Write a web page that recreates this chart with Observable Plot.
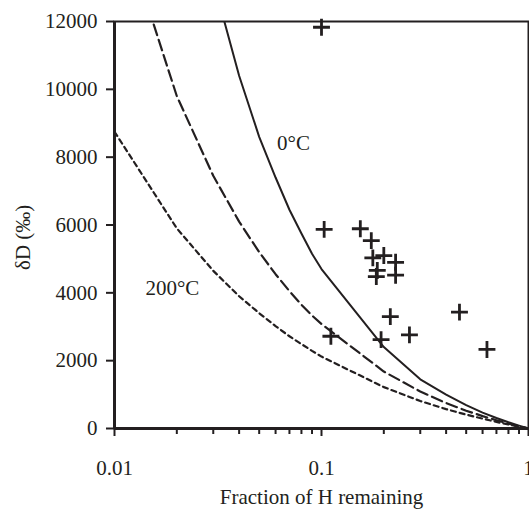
<!DOCTYPE html>
<html>
<head>
<meta charset="utf-8">
<script src="https://cdn.jsdelivr.net/npm/d3@7"></script>
<script src="https://cdn.jsdelivr.net/npm/@observablehq/plot@0.6"></script>
<style>
  html, body { margin: 0; padding: 0; background: #fff; }
  #chart { width: 529px; height: 510px; }
</style>
</head>
<body>
<div id="chart"></div>
<script>
// Fraction of H remaining (model grid)
const fraction = [0.01, 0.02, 0.03, 0.04, 0.05, 0.06, 0.07, 0.08, 0.09, 0.1, 0.2, 0.3, 0.4, 0.5, 0.6, 0.7, 0.8, 0.9, 1];
// δD curves (‰)
const curve0C   = [null, null, 13200, 10400, 8600, 7400, 6450, 5750, 5150, 4700, 2400, 1450, 1000, 690, 470, 310, 185, 85, 0];
const curveMid  = [15500, 9800, 7450, 6100, 5200, 4550, 4050, 3650, 3330, 3080, 1680, 1090, 750, 525, 365, 245, 145, 65, 0];
const curve200C = [8750, 5900, 4650, 3900, 3400, 3020, 2720, 2490, 2290, 2120, 1220, 810, 570, 410, 290, 195, 117, 53, 0];

// Measured samples
const sampleF  = [0.100, 0.103, 0.154, 0.174, 0.177, 0.200, 0.228, 0.186, 0.184, 0.228, 0.215, 0.464, 0.266, 0.111, 0.194, 0.630];
const sampleDD = [11830, 5870, 5890, 5540, 5030, 5100, 4900, 4660, 4480, 4520, 3300, 3430, 2760, 2720, 2620, 2330];

const xTicks = [0.01, 0.1, 1];
const xTickLabels = ["0.01", "0.1", "1"];
const xMinorTicks = [0.02, 0.03, 0.04, 0.05, 0.06, 0.07, 0.08, 0.09, 0.2, 0.3, 0.4, 0.5, 0.6, 0.7, 0.8, 0.9];
const yTicks = [0, 2000, 4000, 6000, 8000, 10000, 12000];

const ink = "#231f20";
const font = "'Liberation Serif', 'Times New Roman', Times, serif";

const mk = (ys) => fraction.map((f, i) => ({f, d: ys[i]})).filter(p => p.d != null);
const samples = sampleF.map((f, i) => ({f, d: sampleDD[i]}));

const chart = Plot.plot({
  width: 529,
  height: 510,
  marginLeft: 114,
  marginRight: 1,
  marginTop: 21,
  marginBottom: 82,
  style: {fontFamily: font, fontSize: "21px", color: ink, background: "#fff"},
  x: {type: "log", domain: [0.01, 1]},
  y: {domain: [0, 12000]},
  marks: [
    Plot.frame({stroke: ink, strokeWidth: 2}),
    Plot.line(mk(curve0C), {x: "f", y: "d", stroke: ink, strokeWidth: 2, clip: true}),
    Plot.line(mk(curveMid), {x: "f", y: "d", stroke: ink, strokeWidth: 2.2, strokeDasharray: "11,5", clip: true}),
    Plot.line(mk(curve200C), {x: "f", y: "d", stroke: ink, strokeWidth: 2.2, strokeDasharray: "5,4", clip: true}),
    Plot.dot(samples, {x: "f", y: "d", symbol: "plus", r: 5.5, stroke: ink, strokeWidth: 2.8}),
    Plot.ruleX([0.01], {stroke: ink, strokeWidth: 3}),
    Plot.ruleY([0], {stroke: ink, strokeWidth: 3}),
    Plot.axisY({ticks: yTicks, tickSize: 8, tickPadding: 9, tickFormat: d => String(d), stroke: ink, strokeWidth: 2, fontSize: 21, label: null}),
    Plot.axisX({ticks: xMinorTicks, tickSize: 6, tickFormat: () => "", stroke: ink, strokeWidth: 2, label: null}),
    Plot.axisX({ticks: xTicks, tickSize: 8, tickPadding: 24, tickFormat: (d) => xTickLabels[xTicks.indexOf(d)], stroke: ink, strokeWidth: 2, fontSize: 21, label: null}),
    Plot.text(["0°C"], {x: 0.061, y: 8400, textAnchor: "start", fontSize: 21, fill: ink}),
    Plot.text(["200°C"], {x: 0.0141, y: 4130, textAnchor: "start", fontSize: 21, fill: ink}),
    Plot.text(["Fraction of H remaining"], {frameAnchor: "bottom", dy: 75, fontSize: 21, fill: ink}),
    Plot.text(["δD (‰)"], {frameAnchor: "left", dx: -91, dy: 45, rotate: -90, fontSize: 21, fill: ink})
  ]
});
document.getElementById("chart").appendChild(chart);
</script>
</body>
</html>
